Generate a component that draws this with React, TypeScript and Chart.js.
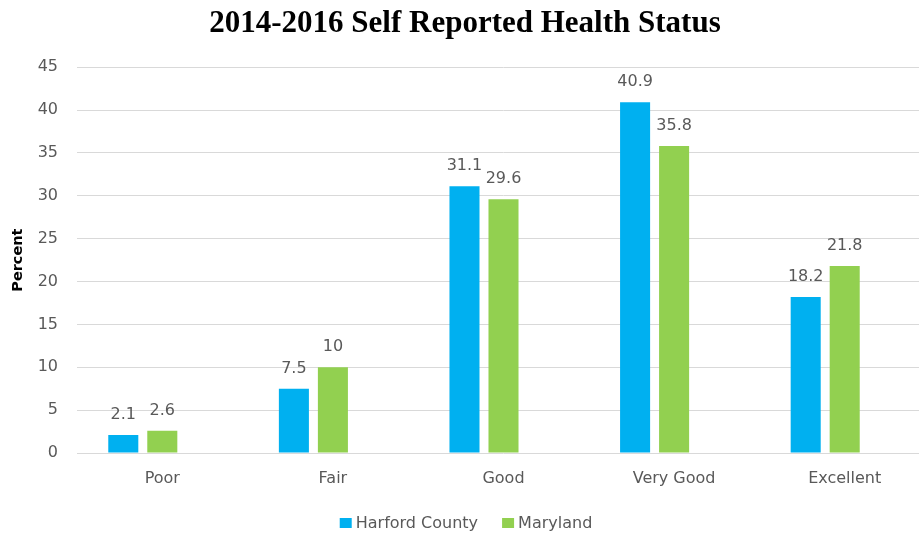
import React, { useEffect, useRef } from "react";
import { Chart, registerables } from "chart.js";

Chart.register(...registerables);

const chartTitle = "2014-2016 Self Reported Health Status";
const yAxisTitle = "Percent";
const categories = ["Poor", "Fair", "Good", "Very Good", "Excellent"];
const seriesNames = ["Harford County", "Maryland"];
const harfordCounty = [2.1, 7.5, 31.1, 40.9, 18.2];
const maryland = [2.6, 10, 29.6, 35.8, 21.8];
// Excel's chart holds a third, empty series that keeps a slot in each group
const emptySeries: (number | null)[] = [null, null, null, null, null];
const yMin = 0;
const yMax = 45;
const yStep = 5;

const BLUE = "#00B0F0";
const GREEN = "#92D050";
const TEXT_GRAY = "#595959";
const SANS = "'DejaVu Sans', sans-serif";

const valueLabels = {
  id: "valueLabels",
  afterDatasetsDraw(chart: any) {
    const ctx = chart.ctx;
    ctx.save();
    ctx.font = `16px ${SANS}`;
    ctx.fillStyle = TEXT_GRAY;
    ctx.textAlign = "center";
    ctx.textBaseline = "alphabetic";
    chart.data.datasets.forEach((ds: any, i: number) => {
      if (!ds.label) return;
      const meta = chart.getDatasetMeta(i);
      meta.data.forEach((el: any, j: number) => {
        const v = ds.data[j];
        if (v === null || v === undefined) return;
        ctx.fillText(String(v), el.x, el.y - 16);
      });
    });
    ctx.restore();
  },
};

const bottomLegend = {
  id: "bottomLegend",
  afterDraw(chart: any) {
    const ctx = chart.ctx;
    ctx.save();
    ctx.font = `16px ${SANS}`;
    ctx.textBaseline = "alphabetic";
    ctx.textAlign = "left";
    const items = chart.data.datasets.filter((d: any) => d.label);
    const boxW = 12;
    const boxH = 10;
    const boxGap = 4;
    const itemGap = 24;
    const widths = items.map((d: any) => boxW + boxGap + ctx.measureText(d.label).width);
    const total = widths.reduce((a: number, b: number) => a + b, 0) + itemGap * (items.length - 1);
    let x = chart.width / 2 - total / 2;
    const baseline = 528;
    items.forEach((d: any, i: number) => {
      ctx.fillStyle = d.backgroundColor;
      ctx.fillRect(x, baseline - boxH, boxW, boxH);
      ctx.fillStyle = TEXT_GRAY;
      ctx.fillText(d.label, x + boxW + boxGap, baseline);
      x += widths[i] + itemGap;
    });
    ctx.restore();
  },
};

export default function App() {
  const canvasRef = useRef<HTMLCanvasElement | null>(null);

  useEffect(() => {
    if (!canvasRef.current) return;
    const chart = new Chart(canvasRef.current, {
      type: "bar",
      data: {
        labels: categories,
        datasets: [
          { label: seriesNames[0], data: harfordCounty, backgroundColor: BLUE },
          { label: seriesNames[1], data: maryland, backgroundColor: GREEN },
          { label: "", data: emptySeries, backgroundColor: "rgba(0,0,0,0)" },
        ],
      },
      options: {
        responsive: false,
        animation: false,
        devicePixelRatio: 1,
        layout: { padding: { left: 0, right: 2, top: 0, bottom: 0 } },
        datasets: {
          bar: { barPercentage: 0.77, categoryPercentage: 0.686 },
        },
        plugins: {
          legend: { display: false },
          tooltip: { enabled: false },
          title: {
            display: true,
            text: chartTitle,
            color: "#000000",
            font: { family: "'Liberation Serif', serif", size: 31, weight: "bold", lineHeight: 1.2 },
            padding: { top: 5, bottom: 25 },
          },
        },
        scales: {
          x: {
            grid: { display: false },
            border: { display: false },
            ticks: {
              color: TEXT_GRAY,
              font: { family: SANS, size: 16 },
              padding: 8,
              maxRotation: 0,
            },
            afterFit(scale: any) {
              scale.height = 82;
            },
          },
          y: {
            min: yMin,
            max: yMax,
            grid: { color: "#D9D9D9", drawTicks: false, lineWidth: 1 },
            border: { display: false },
            ticks: {
              stepSize: yStep,
              color: TEXT_GRAY,
              font: { family: SANS, size: 16 },
              padding: 19,
            },
            title: {
              display: true,
              text: yAxisTitle,
              color: "#000000",
              font: { family: SANS, size: 14.5, weight: "bold", lineHeight: 1.2 },
              padding: { top: 10, bottom: 0 },
            },
            afterFit(scale: any) {
              scale.width = 77;
            },
          },
        },
      },
      plugins: [valueLabels, bottomLegend],
    });
    return () => chart.destroy();
  }, []);

  return (
    <div
      style={{
        position: "fixed",
        left: 0,
        top: 0,
        width: 919,
        height: 535,
        overflow: "hidden",
        background: "#ffffff",
      }}
    >
      <canvas ref={canvasRef} width={932} height={535} style={{ width: 932, height: 535, display: "block" }} />
    </div>
  );
}
